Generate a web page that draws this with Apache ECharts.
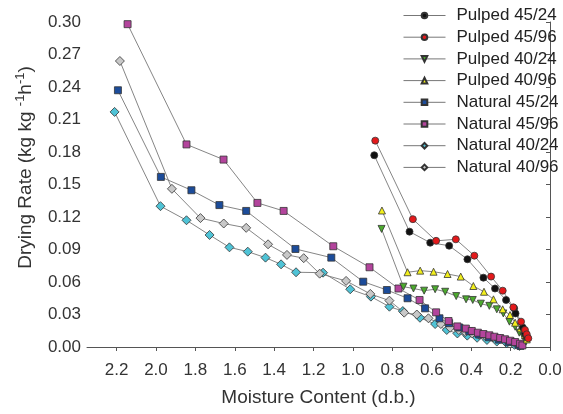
<!DOCTYPE html>
<html>
<head>
<meta charset="utf-8">
<script src="https://cdn.jsdelivr.net/npm/echarts@6/dist/echarts.min.js"></script>
<style>
    html, body { margin: 0; padding: 0; background: #fff; }
    #main { width: 563px; height: 414px; }
</style>
</head>
<body>
<div id="main"></div>
<script>
    // [moisture content, drying rate]
    var pulped4524 = [[0.892,0.177],[0.713,0.1065],[0.608,0.0963],[0.512,0.0935],[0.419,0.081],[0.338,0.064],[0.279,0.054],[0.223,0.0434],[0.182,0.0357],[0.175,0.031],[0.138,0.018],[0.127,0.0126],[0.118,0.0095]];
    var pulped4596 = [[0.887,0.1905],[0.696,0.118],[0.578,0.098],[0.478,0.0994],[0.384,0.0843],[0.299,0.065],[0.24,0.052],[0.186,0.0366],[0.147,0.0234],[0.127,0.0157],[0.118,0.0117],[0.11,0.008]];
    var pulped4024 = [[0.855,0.109],[0.744,0.0557],[0.693,0.054],[0.639,0.052],[0.583,0.0533],[0.532,0.051],[0.476,0.047],[0.426,0.044],[0.392,0.0434],[0.351,0.040],[0.308,0.038],[0.27,0.0348],[0.237,0.031],[0.206,0.0234],[0.177,0.0187],[0.156,0.0132],[0.135,0.0095],[0.122,0.005]];
    var pulped4096 = [[0.853,0.126],[0.723,0.069],[0.659,0.0705],[0.591,0.0695],[0.52,0.0674],[0.453,0.065],[0.389,0.0563],[0.335,0.051],[0.287,0.044],[0.24,0.0348],[0.203,0.0295],[0.177,0.0224],[0.149,0.0173],[0.127,0.011],[0.118,0.007]];
    var natural4524 = [[2.193,0.237],[1.975,0.157],[1.82,0.1447],[1.678,0.131],[1.542,0.1256],[1.292,0.0905],[1.11,0.0825],[0.948,0.0603],[0.828,0.0526],[0.723,0.045],[0.634,0.0357],[0.561,0.0265],[0.512,0.022],[0.46,0.018],[0.41,0.0145],[0.36,0.0115],[0.31,0.009],[0.26,0.0068],[0.21,0.0045],[0.16,0.0022],[0.15,0.001]];
    var natural4596 = [[2.144,0.298],[1.845,0.187],[1.657,0.173],[1.485,0.133],[1.352,0.1256],[1.10,0.093],[0.916,0.0736],[0.769,0.054],[0.662,0.0434],[0.578,0.032],[0.515,0.024],[0.47,0.019],[0.427,0.017],[0.397,0.0148],[0.366,0.0132],[0.338,0.012],[0.308,0.0108],[0.282,0.0095],[0.253,0.0083],[0.228,0.0071],[0.203,0.0058],[0.177,0.0046],[0.152,0.003],[0.14,0.0015]];
    var natural4024 = [[2.21,0.217],[1.977,0.130],[1.845,0.117],[1.728,0.1034],[1.627,0.092],[1.534,0.088],[1.444,0.0825],[1.365,0.0763],[1.289,0.069],[1.152,0.0686],[1.014,0.0533],[0.909,0.0465],[0.815,0.0372],[0.747,0.0332],[0.66,0.027],[0.583,0.0212],[0.524,0.0157],[0.47,0.0125],[0.42,0.0105],[0.37,0.0085],[0.32,0.0065],[0.27,0.005],[0.22,0.0035],[0.18,0.002],[0.155,0.001]];
    var natural4096 = [[2.183,0.264],[1.919,0.146],[1.774,0.119],[1.656,0.114],[1.542,0.11],[1.431,0.0948],[1.335,0.085],[1.25,0.082],[1.169,0.0677],[1.035,0.061],[0.912,0.049],[0.815,0.0428],[0.74,0.0317],[0.676,0.030],[0.617,0.0265],[0.554,0.0212],[0.507,0.0178],[0.463,0.0157],[0.43,0.0138],[0.395,0.0125],[0.36,0.0113],[0.325,0.01],[0.29,0.0088],[0.253,0.0075],[0.218,0.0062],[0.183,0.0045],[0.16,0.0015]];

    var xTicks = [0, 0.2, 0.4, 0.6, 0.8, 1.0, 1.2, 1.4, 1.6, 1.8, 2.0, 2.2];

    var font = 'Liberation Sans, Arial, sans-serif';

    function mk(name, data, symbol, color, rotate) {
        return {
            name: name,
            type: 'line',
            data: data,
            symbol: symbol,
            symbolSize: symbol == 'diamond' ? 9 : 7,
            symbolRotate: rotate || 0,
            showAllSymbol: true,
            lineStyle: { color: '#777', width: 0.9 },
            itemStyle: { color: color, borderColor: '#333', borderWidth: 0.8 },
            emphasis: { disabled: true },
            animation: false
        };
    }

    var chart = echarts.init(document.getElementById('main'));
    var option = {
        animation: false,
        grid: { left: 87, right: 13, top: 22, bottom: 67, containLabel: false, outerBoundsMode: 'none' },
        legend: {
            orient: 'vertical',
            left: 403,
            top: 7,
            padding: 0,
            itemWidth: 42,
            itemHeight: 7,
            itemGap: 4.7,
            lineStyle: { width: 1, color: '#777' },
            textStyle: { fontFamily: font, fontSize: 17, color: '#222', padding: [0, 0, 0, 6] },
            data: ['Pulped 45/24', 'Pulped 45/96', 'Pulped 40/24', 'Pulped 40/96',
                   'Natural 45/24', 'Natural 45/96', 'Natural 40/24', 'Natural 40/96']
        },
        xAxis: {
            type: 'value',
            inverse: true,
            min: 0,
            max: 2.35,
            interval: 0.2,
            name: 'Moisture Content (d.b.)',
            nameLocation: 'middle',
            nameGap: 41,
            nameTextStyle: { fontFamily: font, fontSize: 19, color: '#333' },
            splitLine: { show: false },
            axisLine: { lineStyle: { color: '#555', width: 1 } },
            axisTick: { inside: false, length: 4, lineStyle: { color: '#555' }, customValues: xTicks },
            axisLabel: {
                fontFamily: font, fontSize: 17, color: '#333', margin: 15,
                customValues: xTicks,
                formatter: function (v) { return v.toFixed(1); }
            }
        },
        yAxis: {
            type: 'value',
            min: 0,
            max: 0.30,
            interval: 0.03,
            name: 'Drying Rate (kg kg {sup|-1}h{sup|-1})',
            nameLocation: 'middle',
            nameGap: 50,
            nameTextStyle: {
                fontFamily: font, fontSize: 19, color: '#333', padding: [0, 0, 0, 34],
                rich: {
                    sup: { fontFamily: font, fontSize: 13, color: '#333', verticalAlign: 'top', lineHeight: 23 }
                }
            },
            splitLine: { show: false },
            axisLine: { show: true, lineStyle: { color: '#555', width: 1 } },
            axisTick: { show: true, inside: false, length: 4, lineStyle: { color: '#555' } },
            axisLabel: {
                fontFamily: font, fontSize: 17, color: '#333', margin: 6,
                formatter: function (v) { return v.toFixed(2); }
            }
        },
        series: [
            mk('Natural 40/24', natural4024, 'diamond', '#4fc3d6'),
            mk('Natural 40/96', natural4096, 'diamond', '#c8c8c8'),
            mk('Natural 45/24', natural4524, 'rect', '#1c4c9a'),
            mk('Natural 45/96', natural4596, 'rect', '#b3449c'),
            mk('Pulped 40/24', pulped4024, 'triangle', '#4caa2e', 180),
            mk('Pulped 40/96', pulped4096, 'triangle', '#f2ef1c'),
            mk('Pulped 45/24', pulped4524, 'circle', '#111111'),
            mk('Pulped 45/96', pulped4596, 'circle', '#e3191b')
        ]
    };
    chart.setOption(option);
</script>
</body>
</html>
